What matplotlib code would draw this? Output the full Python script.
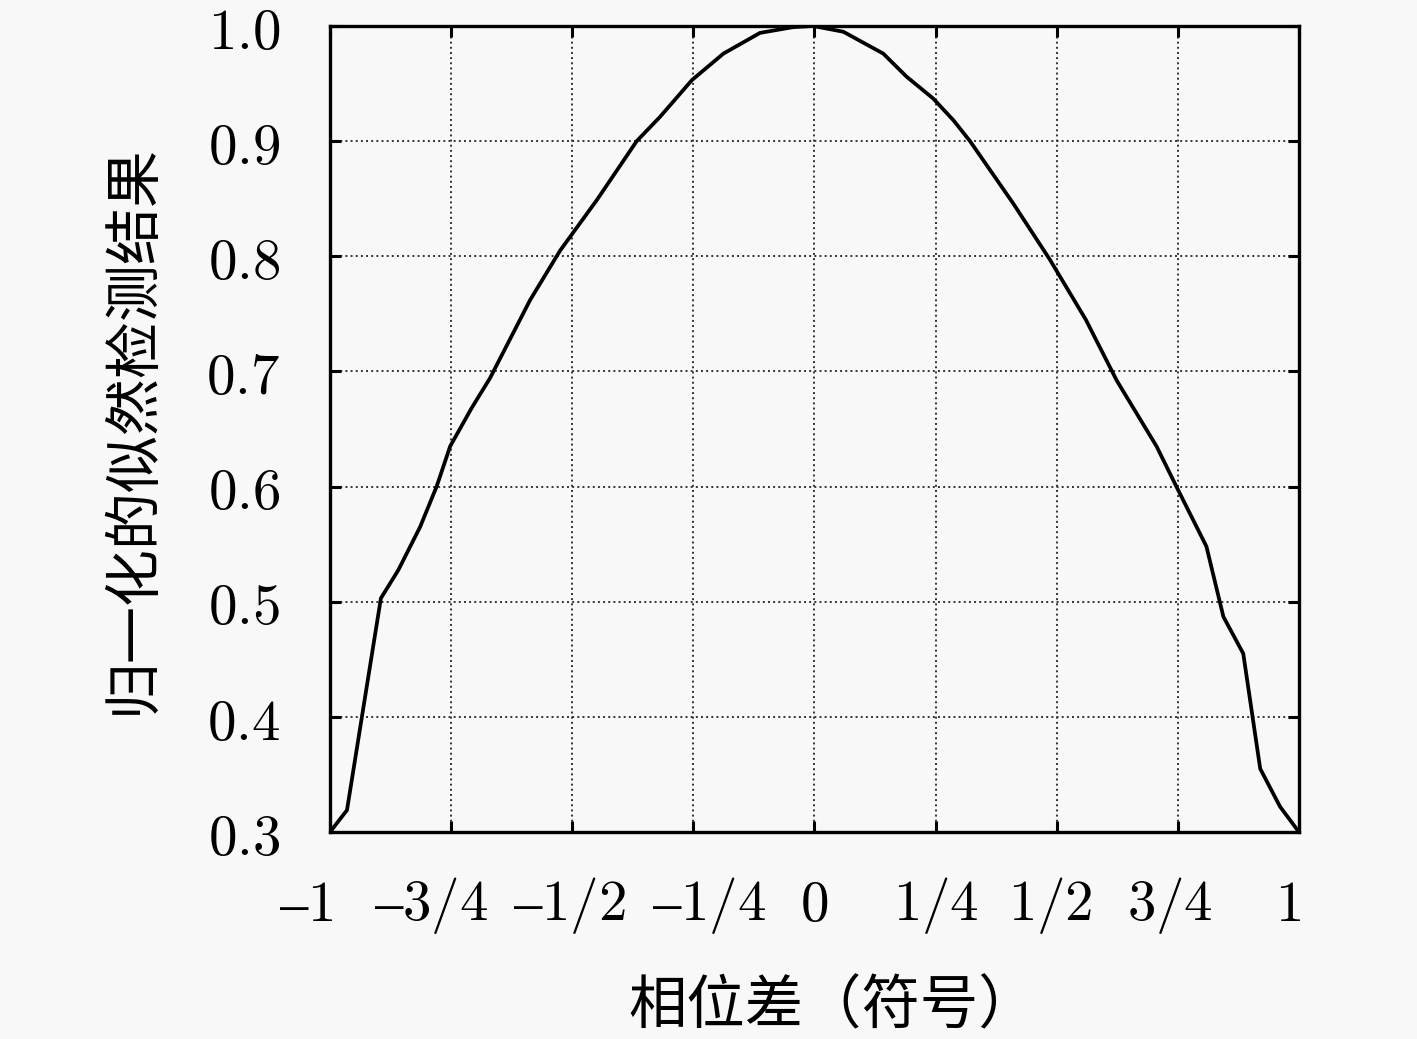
import numpy as np
import matplotlib
matplotlib.use('Agg')
import matplotlib.pyplot as plt
import matplotlib.transforms as mtransforms

plt.rcParams['mathtext.fontset'] = 'cm'
plt.rcParams['font.family'] = ['Noto Sans CJK SC', 'DejaVu Sans']

# 相位差 (符号) 与归一化似然检测结果
phase = [-1.0, -0.965, -0.895, -0.859, -0.814, -0.780, -0.752, -0.708, -0.670,
         -0.587, -0.525, -0.449, -0.367, -0.319, -0.253, -0.188, -0.1125,
         -0.044, -0.003, 0.0595, 0.142, 0.190, 0.245, 0.287, 0.321, 0.410,
         0.486, 0.560, 0.624, 0.706, 0.747, 0.809, 0.844, 0.885, 0.920,
         0.961, 1.0]
likelihood = [0.300, 0.319, 0.503, 0.5275, 0.565, 0.600, 0.635, 0.668, 0.694,
              0.762, 0.805, 0.849, 0.900, 0.921, 0.953, 0.976, 0.994,
              0.999, 1.000, 0.995, 0.976, 0.956, 0.937, 0.918, 0.900, 0.846,
              0.797, 0.745, 0.692, 0.635, 0.600, 0.548, 0.487, 0.455, 0.355,
              0.322, 0.300]

xticks = [-1, -0.75, -0.5, -0.25, 0, 0.25, 0.5, 0.75, 1]
xticklabels = ['$\u20131$', '$\u20133/4$', '$\u20131/2$', '$\u20131/4$', '$0$',
               '$1/4$', '$1/2$', '$3/4$', '$1$']
yticks = [0.3, 0.4, 0.5, 0.6, 0.7, 0.8, 0.9, 1.0]
yticklabels = [r'$%.1f$' % v for v in yticks]

bg = '#f8f8f8'
fig = plt.figure(figsize=(14.17, 10.39), dpi=100, facecolor=bg)
ax = fig.add_axes([0.2329, 0.1992, 0.6838, 0.7758], facecolor=bg)

ax.plot(phase, likelihood, color='black', lw=2.7)

ax.set_xlim(-1, 1)
ax.set_ylim(0.3, 1.0)
ax.set_xticks(xticks)
ax.set_xticklabels(xticklabels, fontsize=41)
ax.set_yticks(yticks)
ax.set_yticklabels(yticklabels, fontsize=41)

ax.grid(True, linestyle=':', color='#333333', lw=1.4)
ax.tick_params(direction='in', length=8, width=2.2, top=True, right=True)
ax.tick_params(axis='x', pad=31)
ax.tick_params(axis='y', pad=36)
for s in ax.spines.values():
    s.set_linewidth(2.4)

# 标签的水平偏移 (像素)
shifts = [-24, -20, -3, 16, 0, 0, -6, -8, -11]
for lab, dx in zip(ax.get_xticklabels(), shifts):
    lab.set_transform(lab.get_transform() +
                      mtransforms.ScaledTranslation(dx / 100, 0, fig.dpi_scale_trans))

ax.set_xlabel('相位差（符号）', fontsize=42, labelpad=29, x=0.519)
ax.set_ylabel('归一化的似然检测结果', fontsize=41, labelpad=32)

fig.savefig('out.png', dpi=100, facecolor=bg)
